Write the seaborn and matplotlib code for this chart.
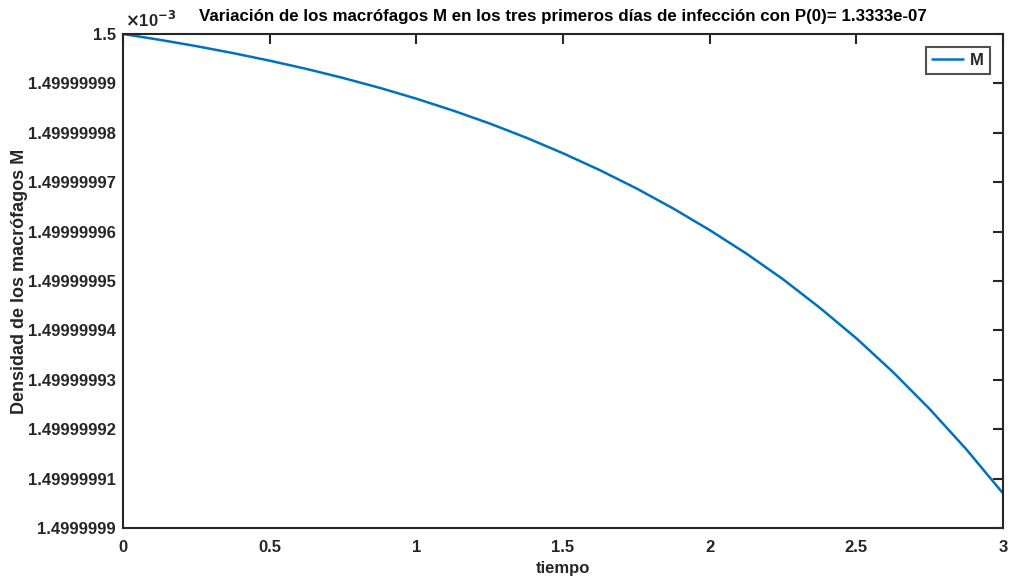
import numpy as np
import pandas as pd
import matplotlib
matplotlib.use("Agg")
import matplotlib.pyplot as plt
from matplotlib.ticker import FixedLocator, FixedFormatter
import seaborn as sns

# Macrophage density M over the first three days (absolute values)
tiempo = [0.0, 0.125, 0.25, 0.375, 0.5, 0.625, 0.75, 0.875, 1.0,
          1.125, 1.25, 1.375, 1.5, 1.625, 1.75, 1.875, 2.0,
          2.125, 2.25, 2.375, 2.5, 2.625, 2.75, 2.875, 3.0]
M = [1.50000000000e-3, 1.49999999882e-3, 1.49999999754e-3, 1.49999999613e-3,
     1.49999999460e-3, 1.49999999293e-3, 1.49999999110e-3, 1.49999998910e-3,
     1.49999998690e-3, 1.49999998450e-3, 1.49999998188e-3, 1.49999997900e-3,
     1.49999997585e-3, 1.49999997245e-3, 1.49999996875e-3, 1.49999996470e-3,
     1.49999996030e-3, 1.49999995555e-3, 1.49999995035e-3, 1.49999994460e-3,
     1.49999993840e-3, 1.49999993156e-3, 1.49999992408e-3, 1.49999991592e-3,
     1.49999990701e-3]

x_ticks = [0, 0.5, 1, 1.5, 2, 2.5, 3]
x_tick_labels = ["0", "0.5", "1", "1.5", "2", "2.5", "3"]
y_tick_labels = ["1.4999999", "1.49999991", "1.49999992", "1.49999993",
                 "1.49999994", "1.49999995", "1.49999996", "1.49999997",
                 "1.49999998", "1.49999999", "1.5"]

scale = 1e-3
df = pd.DataFrame({"tiempo": tiempo, "M": np.array(M) / scale})

sns.set_theme(style="white")
plt.rcParams["font.family"] = ["Liberation Sans", "DejaVu Sans"]
plt.rcParams["font.weight"] = "bold"

ink = "#262626"
fig = plt.figure(figsize=(10.11, 5.86), dpi=100)
ax = fig.add_axes([0.1217, 0.099, 0.8704, 0.843])

sns.lineplot(data=df, x="tiempo", y="M", ax=ax, color="#0072BD",
             linewidth=1.8, label="M")

y_vals = [float(s) for s in y_tick_labels]
ax.set_xlim(0, 3)
ax.set_ylim(min(y_vals), max(y_vals))
ax.xaxis.set_major_locator(FixedLocator(x_ticks))
ax.xaxis.set_major_formatter(FixedFormatter(x_tick_labels))
ax.yaxis.set_major_locator(FixedLocator(y_vals))
ax.yaxis.set_major_formatter(FixedFormatter(y_tick_labels))

for side in ax.spines.values():
    side.set_color(ink)
    side.set_linewidth(1.5)
    side.set_visible(True)

ax.tick_params(axis="both", which="major", direction="in", length=7,
               width=1.5, color=ink, labelcolor=ink, labelsize=12,
               top=True, right=True)
ax.tick_params(axis="x", pad=9)
ax.tick_params(axis="y", pad=5)
for lab in ax.get_xticklabels() + ax.get_yticklabels():
    lab.set_fontweight("bold")

ax.set_xlabel("tiempo", fontsize=12, fontweight="bold", color=ink, labelpad=4)
ax.set_ylabel("Densidad de los macrófagos M", fontsize=13,
              fontweight="bold", color=ink, labelpad=0)
ax.set_title("Variación de los macrófagos M en los tres primeros días de "
             "infección con P(0)= 1.3333e-07", fontsize=12.2,
             fontweight="bold", color="black", pad=9)

ax.text(0.002, 1.008, r"$\times$10$^{-3}$", transform=ax.transAxes,
        ha="left", va="bottom", fontsize=12, color=ink)

leg = ax.legend(loc="upper right", frameon=True, fancybox=False,
                handlelength=1.9, borderpad=0.35, handletextpad=0.4,
                borderaxespad=0.8, prop={"size": 12, "weight": "bold"})
leg.get_frame().set_edgecolor(ink)
leg.get_frame().set_linewidth(1.5)
for t in leg.get_texts():
    t.set_color(ink)

fig.savefig("out.png", dpi=100, facecolor="white")
